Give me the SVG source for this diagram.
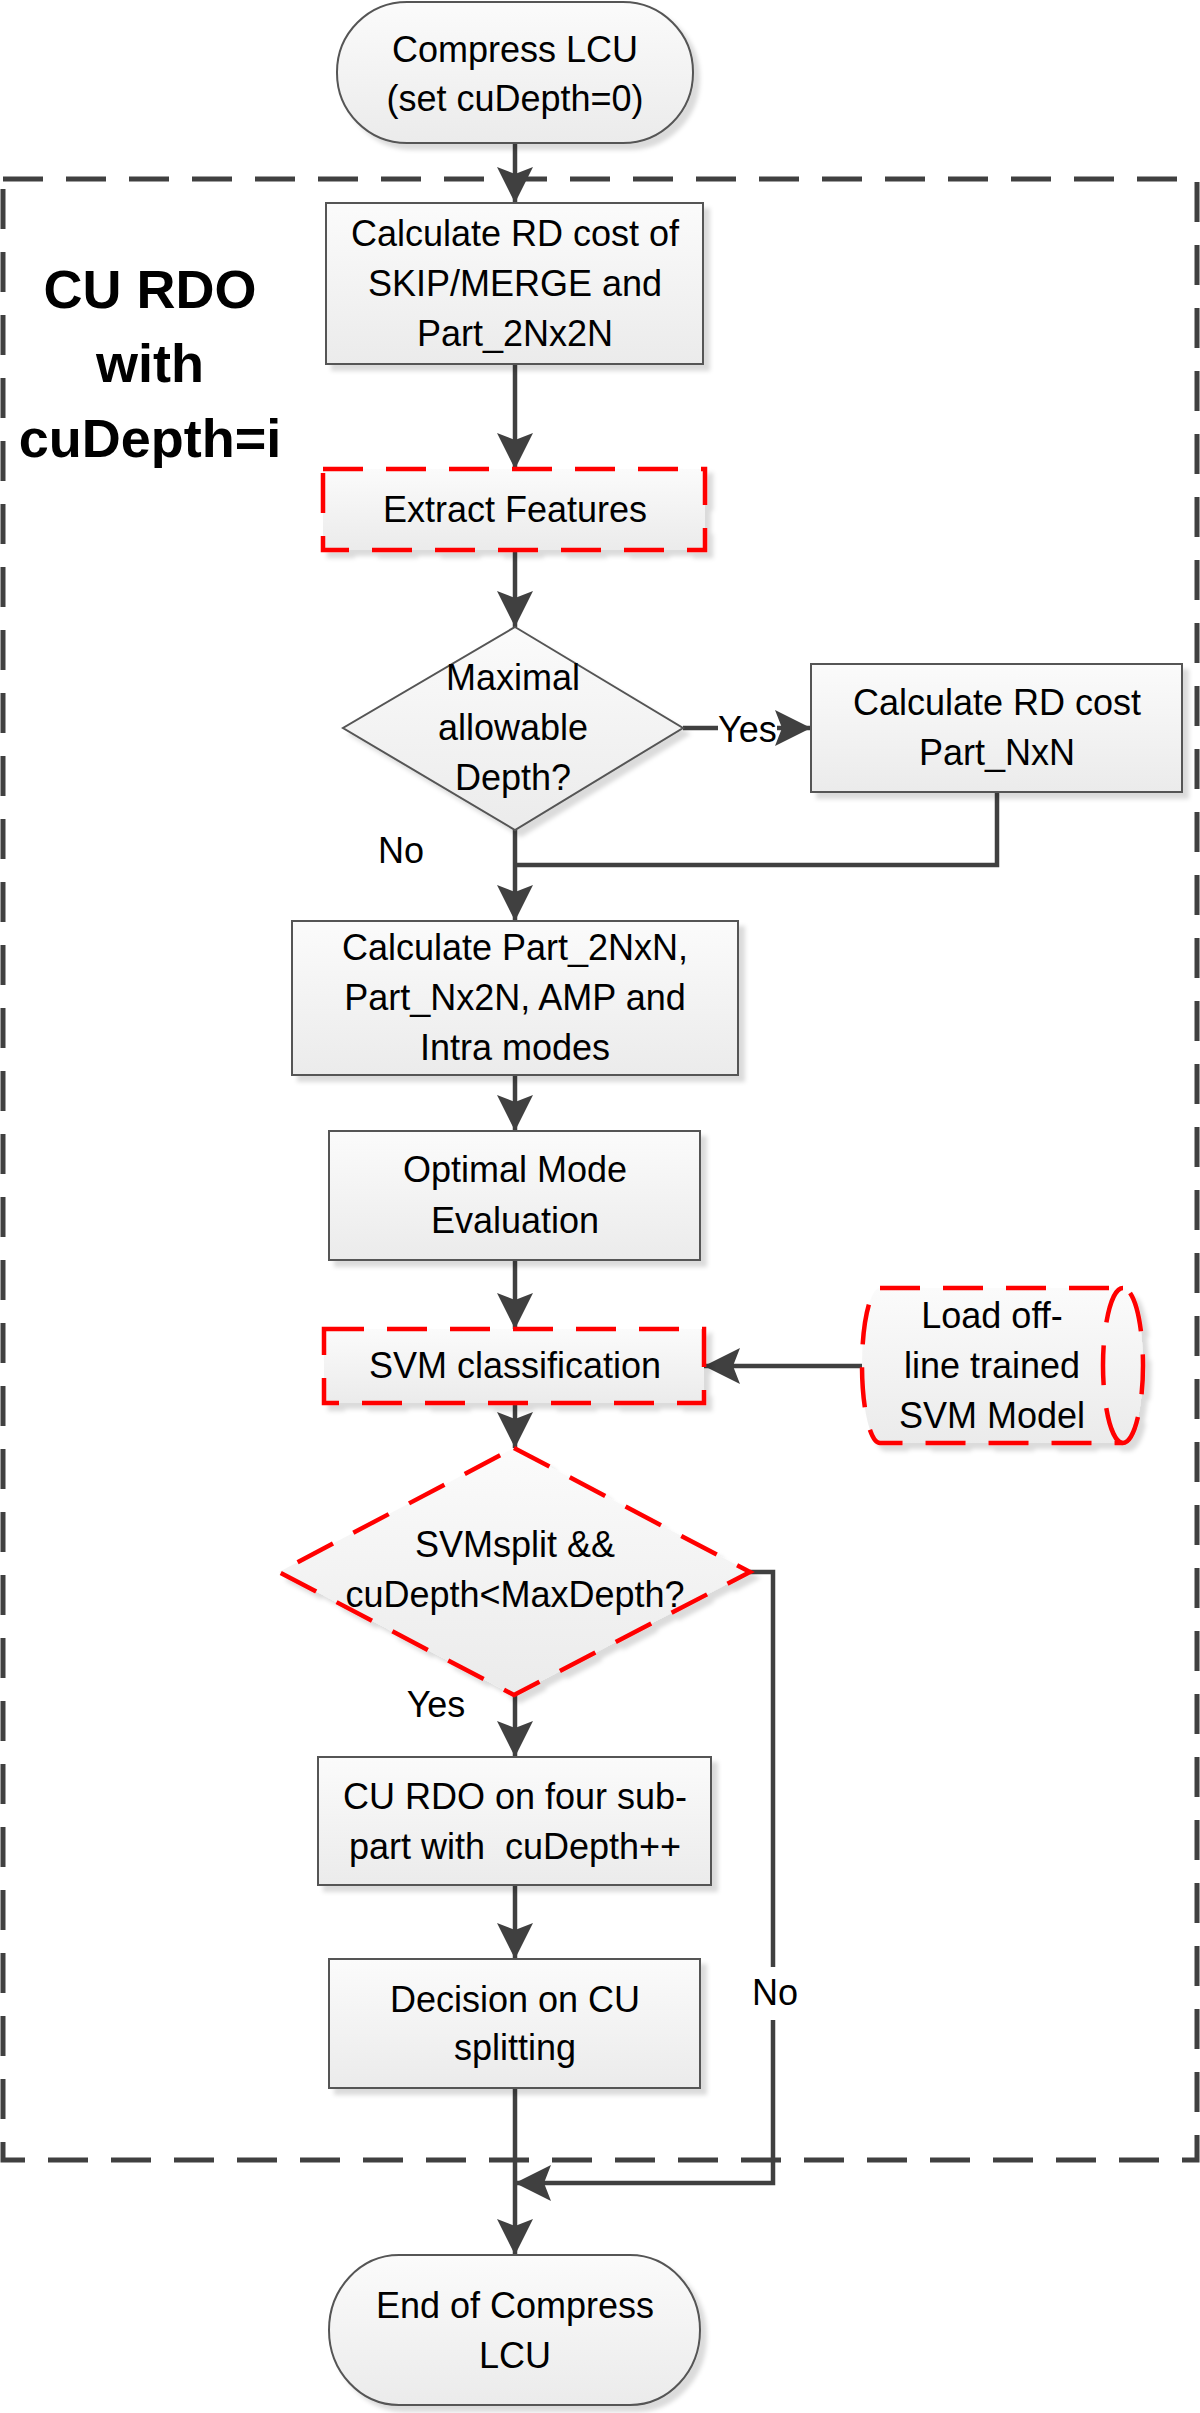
<svg xmlns="http://www.w3.org/2000/svg" width="1200" height="2413" viewBox="0 0 1200 2413">
<style>
text{font-family:"Liberation Sans",Arial,sans-serif;font-size:36px;fill:#000;text-anchor:middle}
.title{font-weight:bold;font-size:54px}
.lbl{text-anchor:start}
.node{fill:url(#g);stroke:#555;stroke-width:2;filter:url(#sh)}
.red{fill:url(#g);stroke:#ff0000;stroke-width:4.5;stroke-dasharray:40 23;filter:url(#sh)}
.redi{fill:none;stroke:#ff0000;stroke-width:4.5;stroke-dasharray:40 23}
.con{fill:none;stroke:#404040;stroke-width:4.5;marker-end:url(#ah)}
.conn{fill:none;stroke:#404040;stroke-width:4.5}
.frame{fill:none;stroke:#404040;stroke-width:5;stroke-dasharray:40 23}
</style>
<defs>
<linearGradient id="g" x1="0" y1="0" x2="0" y2="1">
<stop offset="0" stop-color="#fbfbfb"/>
<stop offset="1" stop-color="#ebebeb"/>
</linearGradient>
<filter id="sh" x="-10%" y="-10%" width="130%" height="130%">
<feDropShadow dx="6" dy="6" stdDeviation="2" flood-color="#000" flood-opacity="0.14"/>
</filter>
<marker id="ah" markerUnits="userSpaceOnUse" markerWidth="40" markerHeight="40" refX="36" refY="18" orient="auto">
<path d="M0,0 L36,18 L0,36 L7,18 Z" fill="#404040"/>
</marker>
</defs>

<rect class="frame" x="3" y="179" width="1194" height="1981"/>

<g id="title">
<text class="title" x="150" y="308">CU RDO</text>
<text class="title" x="150" y="382">with</text>
<text class="title" x="150" y="457">cuDepth=i</text>
</g>

<g id="connectors">
<path class="con" d="M515,143 V203"/>
<path class="con" d="M515,364 V469"/>
<path class="con" d="M515,550 V627"/>
<path class="con" d="M683,728 H718 M777,728 H811"/>
<path class="conn" d="M997,792 V865 H515"/>
<path class="con" d="M515,830 V921"/>
<path class="con" d="M515,1075 V1131"/>
<path class="con" d="M515,1260 V1329"/>
<path class="con" d="M862,1366 H704"/>
<path class="con" d="M515,1403 V1448"/>
<path class="con" d="M515,1695 V1757"/>
<path class="con" d="M515,1885 V1959"/>
<path class="con" d="M515,2088 V2255"/>
<path class="con" d="M750,1572 H773 V1967 M773,2020 V2183 H515"/>
<text class="lbl" x="718" y="742">Yes</text>
<text x="401" y="863">No</text>
<text x="436" y="1717">Yes</text>
<text x="775" y="2005">No</text>
</g>

<g id="start">
<rect class="node" x="337" y="2" width="356" height="141" rx="70" ry="70"/>
<text x="515" y="62">Compress LCU</text>
<text x="515" y="111">(set cuDepth=0)</text>
</g>

<g id="rd-skip">
<rect class="node" x="326" y="203" width="377" height="161"/>
<text x="515" y="246">Calculate RD cost of</text>
<text x="515" y="296">SKIP/MERGE and</text>
<text x="515" y="346">Part_2Nx2N</text>
</g>

<g id="extract">
<rect class="red" x="323" y="469" width="382" height="81"/>
<text x="515" y="522">Extract Features</text>
</g>

<g id="maxdepth">
<polygon class="node" points="515,627 683,728 515,830 343,728"/>
<text x="513" y="690">Maximal</text>
<text x="513" y="740">allowable</text>
<text x="513" y="790">Depth?</text>
</g>

<g id="rd-nxn">
<rect class="node" x="811" y="664" width="371" height="128"/>
<text x="997" y="715">Calculate RD cost</text>
<text x="997" y="765">Part_NxN</text>
</g>

<g id="part-modes">
<rect class="node" x="292" y="921" width="446" height="154"/>
<text x="515" y="960">Calculate Part_2NxN,</text>
<text x="515" y="1010">Part_Nx2N, AMP and</text>
<text x="515" y="1060">Intra modes</text>
</g>

<g id="optimal">
<rect class="node" x="329" y="1131" width="371" height="129"/>
<text x="515" y="1182">Optimal Mode</text>
<text x="515" y="1233">Evaluation</text>
</g>

<g id="svm">
<rect class="red" x="324" y="1329" width="380" height="74"/>
<text x="515" y="1378">SVM classification</text>
</g>

<g id="model">
<path class="red" d="M880,1288 H1123 A20,77.5 0 0 1 1123,1443 H880 A18,77.5 0 0 1 880,1288 Z"/>
<path class="redi" d="M1123,1288 A20,77.5 0 0 0 1123,1443"/>
<text x="992" y="1328">Load off-</text>
<text x="992" y="1378">line trained</text>
<text x="992" y="1428">SVM Model</text>
</g>

<g id="svmsplit">
<polygon class="red" points="514,1448 750,1572 514,1695 279,1572"/>
<text x="515" y="1557">SVMsplit &amp;&amp;</text>
<text x="515" y="1607">cuDepth&lt;MaxDepth?</text>
</g>

<g id="sub-rdo">
<rect class="node" x="318" y="1757" width="393" height="128"/>
<text x="515" y="1809">CU RDO on four sub-</text>
<text x="515" y="1859" xml:space="preserve">part with  cuDepth++</text>
</g>

<g id="decision">
<rect class="node" x="329" y="1959" width="371" height="129"/>
<text x="515" y="2012">Decision on CU</text>
<text x="515" y="2060">splitting</text>
</g>

<g id="end">
<rect class="node" x="329" y="2255" width="371" height="150" rx="70" ry="75"/>
<text x="515" y="2318">End of Compress</text>
<text x="515" y="2368">LCU</text>
</g>
</svg>
